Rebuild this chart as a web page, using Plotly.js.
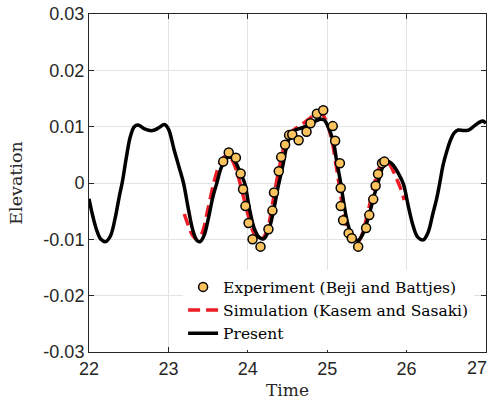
<!DOCTYPE html>
<html>
<head>
<meta charset="utf-8">
<script src="https://cdn.plot.ly/plotly-3.0.1.min.js"></script>
<style>html,body{margin:0;padding:0;background:#fff;}#chart{width:490px;height:406px;}</style>
</head>
<body>
<div id="chart"></div>
<script>
// Experiment (Beji and Battjes)
const expT = [23.69,23.76,23.85,23.91,23.94,23.97,24.01,24.06,24.16,24.26,24.31,24.33,24.39,24.42,24.47,24.52,24.56,24.64,24.74,24.79,24.87,24.95,25.07,25.10,25.16,25.17,25.17,25.20,25.27,25.31,25.39,25.49,25.53,25.58,25.61,25.64,25.69,25.72];
const expY = [0.0038,0.0054,0.0045,0.0017,-0.0011,-0.0041,-0.0071,-0.0100,-0.0113,-0.0082,-0.0049,-0.0017,0.0021,0.0046,0.0068,0.0085,0.0086,0.0076,0.0091,0.0106,0.0123,0.0129,0.0101,0.0075,0.0035,-0.0009,-0.0041,-0.0066,-0.0089,-0.0098,-0.0113,-0.0080,-0.0057,-0.0029,-0.0005,0.0016,0.0035,0.0038];

// Simulation (Kasem and Sasaki)
const simT = [23.20,23.25,23.30,23.36,23.42,23.50,23.58,23.65,23.72,23.78,23.85,23.92,24.00,24.08,24.16,24.24,24.32,24.40,24.48,24.56,24.64,24.72,24.80,24.88,24.94,25.00,25.06,25.12,25.18,25.24,25.30,25.36,25.42,25.50,25.58,25.66,25.74,25.80,25.86,25.92,25.97];
const simY = [-0.0055,-0.0075,-0.0092,-0.0100,-0.0090,-0.0045,0.0005,0.0035,0.0048,0.0045,0.0025,-0.0010,-0.0055,-0.0090,-0.0102,-0.0085,-0.0030,0.0030,0.0075,0.0092,0.0100,0.0108,0.0117,0.0124,0.0122,0.0105,0.0075,0.0025,-0.0030,-0.0075,-0.0100,-0.0108,-0.0098,-0.0060,-0.0010,0.0028,0.0038,0.0030,0.0012,-0.0008,-0.0030];

// Present
const preT = [22.00,22.05,22.10,22.15,22.21,22.27,22.33,22.38,22.42,22.47,22.52,22.57,22.62,22.70,22.80,22.88,22.95,23.00,23.07,23.13,23.19,23.25,23.31,23.36,23.40,23.45,23.50,23.56,23.61,23.66,23.72,23.78,23.84,23.90,23.96,24.02,24.08,24.14,24.20,24.26,24.32,24.38,24.44,24.49,24.54,24.60,24.68,24.76,24.84,24.91,24.96,25.02,25.08,25.12,25.17,25.22,25.27,25.33,25.39,25.45,25.50,25.55,25.60,25.64,25.70,25.77,25.84,25.90,25.96,26.02,26.08,26.14,26.21,26.27,26.33,26.38,26.42,26.46,26.51,26.55,26.60,26.65,26.72,26.78,26.85,26.92,26.96,27.00];
const preY = [-0.0028,-0.0060,-0.0085,-0.0100,-0.0104,-0.0094,-0.0062,-0.0025,0.0002,0.0045,0.0082,0.0100,0.0103,0.0096,0.0093,0.0098,0.0104,0.0096,0.0060,0.0030,0.0000,-0.0045,-0.0085,-0.0102,-0.0104,-0.0093,-0.0065,-0.0025,0.0000,0.0025,0.0042,0.0046,0.0038,0.0020,0.0000,-0.0045,-0.0080,-0.0096,-0.0099,-0.0085,-0.0052,-0.0008,0.0030,0.0065,0.0085,0.0094,0.0098,0.0103,0.0109,0.0113,0.0112,0.0097,0.0072,0.0038,0.0000,-0.0045,-0.0078,-0.0097,-0.0102,-0.0090,-0.0070,-0.0045,-0.0018,0.0000,0.0028,0.0038,0.0030,0.0016,-0.0002,-0.0040,-0.0075,-0.0096,-0.0101,-0.0088,-0.0055,-0.0027,0.0002,0.0032,0.0058,0.0075,0.0089,0.0094,0.0093,0.0094,0.0101,0.0108,0.0110,0.0106];

const xTicks = [22,23,24,25,26];
const xTickText = ['22','23','24','25','26'];
const xEdgeTick = 27;
const xEdgeTickText = '27';
const yTicks = [-0.03,-0.02,-0.01,0,0.01,0.02,0.03];
const yTickText = ['-0.03','-0.02','-0.01','0','0.01','0.02','0.03'];

const serif = '"DejaVu Serif", "Liberation Serif", serif';
const sans = '"Liberation Sans", Arial, sans-serif';

const traces = [
  {x: simT, y: simY, type: 'scatter', mode: 'lines', name: 'Simulation (Kasem and Sasaki)', legendrank: 2,
   line: {color: '#EE1C25', width: 3.5, dash: '12px,6px', shape: 'spline'}},
  {x: preT, y: preY, type: 'scatter', mode: 'lines', name: 'Present', legendrank: 3,
   line: {color: '#000000', width: 3.5, shape: 'spline'}},
  {x: expT, y: expY, type: 'scatter', mode: 'markers', name: 'Experiment (Beji and Battjes)', legendrank: 1,
   marker: {symbol: 'circle', size: 9, color: '#FAC35E', line: {color: '#000000', width: 1.5}}}
];

const axisCommon = {
  showline: true, linecolor: '#262626', linewidth: 1, mirror: 'ticks',
  ticks: 'inside', ticklen: 5, tickcolor: '#262626', tickwidth: 1,
  showgrid: true, gridcolor: '#E3E3E3', gridwidth: 1, zeroline: false,
  tickfont: {family: sans, size: 18, color: '#262626'}
};

const layout = {
  width: 490, height: 406,
  margin: {l: 89, r: 4, t: 14, b: 54},
  paper_bgcolor: '#ffffff', plot_bgcolor: '#ffffff',
  showlegend: true,
  legend: {x: 0.97, y: 0.005, xanchor: 'right', yanchor: 'bottom', bgcolor: '#ffffff', borderwidth: 0,
           font: {family: serif, size: 15.5, color: '#000000'}, itemwidth: 30, tracegroupgap: 0},
  xaxis: Object.assign({}, axisCommon, {range: [22, 27], tickvals: xTicks, ticktext: xTickText,
          title: {text: 'Time', font: {family: serif, size: 17, color: '#262626'}, standoff: 6}}),
  yaxis: Object.assign({}, axisCommon, {range: [-0.03, 0.03], tickvals: yTicks, ticktext: yTickText,
          title: {text: 'Elevation', font: {family: serif, size: 17.5, color: '#262626'}, standoff: 16}}),
  annotations: [{x: xEdgeTick, xref: 'x', y: 0, yref: 'paper', yanchor: 'top', xanchor: 'right', xshift: 3, yshift: -4,
                 text: xEdgeTickText, showarrow: false, font: {family: sans, size: 18, color: '#262626'}}]
};

Plotly.newPlot('chart', traces, layout, {displayModeBar: false, staticPlot: true});
</script>
</body>
</html>
